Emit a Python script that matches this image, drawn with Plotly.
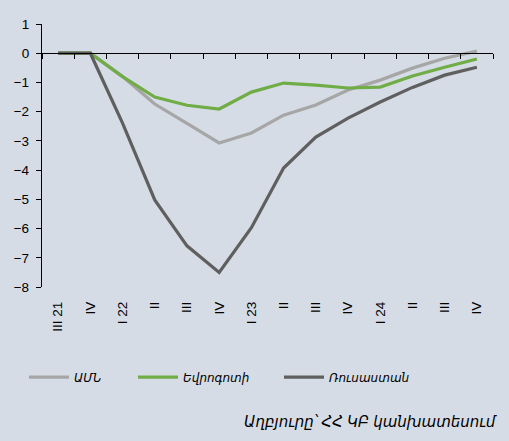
import plotly.graph_objects as go

quarters = ["III 21", "IV", "I 22", "II", "III", "IV", "I 23", "II", "III", "IV", "I 24", "II", "III", "IV"]
usa = [0, 0, -0.8, -1.74, -2.4, -3.07, -2.73, -2.12, -1.77, -1.26, -0.92, -0.51, -0.17, 0.07]
eurozone = [0, 0, -0.8, -1.5, -1.78, -1.91, -1.33, -1.02, -1.09, -1.19, -1.16, -0.78, -0.48, -0.2]
russia = [0, 0, -2.39, -5.02, -6.59, -7.5, -5.97, -3.93, -2.87, -2.22, -1.67, -1.17, -0.75, -0.48]
series_names = ["ԱՄՆ", "Եվրոգոտի", "Ռուսաստան"]
colors = ["#A6A6A6", "#70AD47", "#5F5F5F"]
y_ticks = [1, 0, -1, -2, -3, -4, -5, -6, -7, -8]
source_text = "Աղբյուրը՝ ՀՀ ԿԲ կանխատեսում"

idx = list(range(len(quarters)))
BG = "#D6DCE5"
FONT = "Arial, Liberation Sans, DejaVu Sans, sans-serif"
legend_ids = ["legend", "legend2", "legend3"]
legend_x = [-0.04, 0.2018, 0.5255]

fig = go.Figure()
for name, vals, c, lg in zip(series_names, [usa, eurozone, russia], colors, legend_ids):
    fig.add_trace(go.Scatter(x=idx, y=vals, mode="lines", name=name, legend=lg,
                             line=dict(color=c, width=3.2), xaxis="x"))
# invisible trace to drive the bottom label axis
fig.add_trace(go.Scatter(x=idx, y=[None]*len(idx), xaxis="x2", showlegend=False,
                         hoverinfo="skip", mode="lines"))

ymin, ymax = -8, 1
zero_pos = (0 - ymin) / (ymax - ymin)

legend_common = dict(orientation="h", xanchor="left", y=-0.343, yanchor="middle",
                     bgcolor="rgba(0,0,0,0)",
                     font=dict(family=FONT, size=12, color="#000", style="italic"),
                     itemwidth=40)

fig.update_layout(
    width=509, height=441,
    paper_bgcolor=BG, plot_bgcolor=BG,
    margin=dict(l=42, r=16, t=24, b=154, autoexpand=False),
    font=dict(family=FONT, size=13, color="#000000"),
    xaxis=dict(range=[-0.5, len(idx) - 0.5], tickmode="array",
               tickvals=[i - 0.5 for i in range(len(idx) + 1)],
               showticklabels=False, ticks="outside", ticklen=5, tickwidth=1.3,
               tickcolor="#000", showline=True, linecolor="#000", linewidth=1.3,
               showgrid=False, zeroline=False, anchor="free", position=zero_pos,
               automargin=False),
    xaxis2=dict(range=[-0.5, len(idx) - 0.5], overlaying="x", anchor="y",
                side="bottom", tickmode="array", tickvals=idx, ticktext=quarters,
                tickangle=-90, showline=False, ticks="", showgrid=False,
                zeroline=False, ticklabelstandoff=11, automargin=False,
                tickfont=dict(family=FONT, size=13.5, color="#000")),
    yaxis=dict(range=[ymin, ymax], tickmode="array", tickvals=y_ticks,
               ticks="outside", ticklen=5, tickwidth=1.3, tickcolor="#000",
               showline=True, linecolor="#000", linewidth=1.3, showgrid=False,
               zeroline=False, ticklabelstandoff=4, automargin=False,
               tickfont=dict(family=FONT, size=13.5, color="#000")),
    legend=dict(x=legend_x[0], **legend_common),
    legend2=dict(x=legend_x[1], **legend_common),
    legend3=dict(x=legend_x[2], **legend_common),
    showlegend=True,
)
fig.add_annotation(text=source_text, xref="paper", yref="paper",
                   x=1.016, y=-0.51, xanchor="right", yanchor="middle",
                   showarrow=False,
                   font=dict(family=FONT, size=15, color="#000", style="italic"))

fig.write_html("out.html", config={"displayModeBar": False},
               post_script="document.body.style.margin='0';document.body.style.background='" + BG + "';")
